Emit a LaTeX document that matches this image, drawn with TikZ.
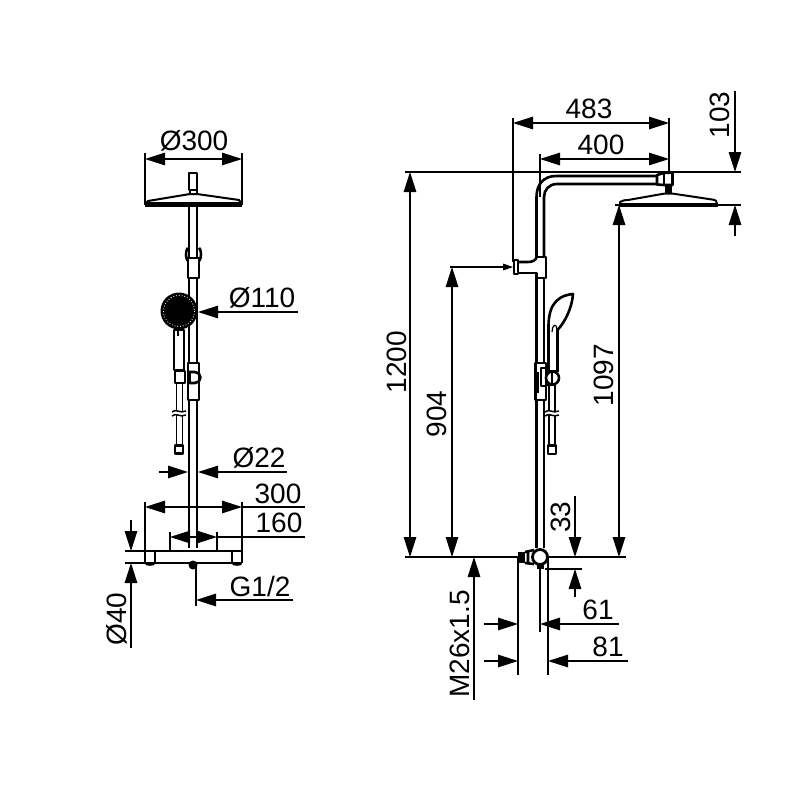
\documentclass[tikz,border=0pt]{standalone}
\usepackage{fontspec}
\setmainfont{Liberation Sans}
\usetikzlibrary{arrows.meta}
\tikzset{
 dimline/.style={line width=1.3pt,black},
 tipa/.style={dimline,-{Triangle[length=20pt,width=12.5pt]}},
 tipb/.style={dimline,{Triangle[length=20pt,width=12.5pt]}-{Triangle[length=20pt,width=12.5pt]}},
 body/.style={line width=2.6pt,black,line join=round},
 fine/.style={line width=1.5pt,black},
 lab/.style={font=\fontsize{28}{28}\selectfont,inner sep=0pt},
 rlab/.style={lab,rotate=90}
}
\begin{document}
\begin{tikzpicture}[x=1pt,y=-1pt]
\useasboundingbox (0,0) rectangle (800,800);
\fill[white] (0,0) rectangle (800,800);
% ---------- left view ----------
\draw[tipb] (145,159) -- (242,159);
\draw[dimline] (145,153) -- (145,205) (242,153) -- (242,205);
\node[lab] (d300) at (194,141) {Ø300};
\draw[body] (189,173) rectangle (197,190);
\draw[body] (190,190) -- (190,194) (197,190) -- (197,194);
\draw[body,line width=2pt] (146,203) -- (148,201) -- (190,194) -- (197,194) -- (239,200) -- (241,203) -- cycle;
\draw[line width=3.4pt] (145,205) -- (242,205);
\draw[body] (189,206) -- (189,548) (197,206) -- (197,548);
% connector
\filldraw[body,fill=white] (188,258) rectangle (199,278);
\draw[body] (188,261) arc[start angle=110,end angle=250,x radius=3,y radius=7];
\draw[body] (199,261) arc[start angle=70,end angle=-70,x radius=3,y radius=7];
% hand shower
\fill[black] (179,311) circle[radius=18.5];
\draw[white,line width=.8pt,dotted] (179,311) circle[radius=15.5];
\draw[dimline] (298,312) -- (217,312);
\draw[tipa] (218,312) -- (198,312);
\node[lab] (d110) at (262,298) {Ø110};
\draw[body] (174,330) -- (174,370) -- (184,370) -- (184,330) -- cycle;
\draw[body] (178,330) -- (178,336);
\filldraw[body,fill=white] (188,363) rectangle (199,400);
\filldraw[body,fill=white] (175,371) rectangle (185,383);
\draw[body] (188,372) -- (195,372) arc[start angle=-90,end angle=90,radius=5.5] -- (188,383);
\draw[line width=3.4pt] (189,372) -- (189,384);
\draw[fine] (176.5,383) -- (176.5,445) (182.5,383) -- (182.5,445);
\fill[white] (173,411) rectangle (187,415);
\draw[fine] (172,412) .. controls (176,408) and (180,414) .. (186,411);
\draw[fine] (172,416) .. controls (176,412) and (180,418) .. (186,415);
\draw[body] (175,445.5) rectangle (183,453.5);
% 22
\draw[dimline] (159,472) -- (169,472);
\draw[tipa] (168,472) -- (188,472);
\draw[tipa] (218,472) -- (198,472);
\draw[dimline] (217,472) -- (287,472);
\node[lab] (d22) at (259,458) {Ø22};
% 300
\draw[tipb] (145,507) -- (242,507);
\draw[dimline] (242,507) -- (305,507);
\draw[dimline] (145,502) -- (145,563) (242,502) -- (242,563);
\node[lab] (w300) at (278,494) {300};
% 160
\draw[tipb] (170,537) -- (217,537);
\draw[dimline] (217,537) -- (305,537);
\draw[dimline] (170,532) -- (170,551) (217,532) -- (217,551);
\node[lab] (w160) at (279,523) {160};
% T-bar
\draw[body] (145,551) -- (242,551) (145,563) -- (242,563);
\draw[body] (145,551) -- (145,563) (155,551) -- (155,563) (232,551) -- (232,563) (242,551) -- (242,563);
\fill (150,564) ellipse[x radius=5,y radius=1.8] (237,564) ellipse[x radius=5,y radius=1.8];
\fill (193,565) circle[radius=4.5];
% 40
\draw[tipa] (131,520) -- (131,551);
\draw[tipa] (131,648) -- (131,563);
\draw[dimline] (125,551) -- (145,551) (125,563) -- (145,563);
\node[rlab] (d40) at (117,619) {Ø40};
% G1/2
\draw[dimline] (196,565) -- (196,606);
\draw[tipa] (293,600) -- (196,600);
\node[lab] (g12) at (260,586) {G1/2};
% ---------- right view ----------
\draw[tipb] (513,123) -- (669,123);
\draw[tipb] (540,159) -- (669,159);
\draw[dimline] (513,118) -- (513,262) (540,154) -- (540,183) (669,118) -- (669,172);
\node[lab] (w483) at (589,109) {483};
\node[lab] (w400) at (601,145) {400};
\draw[dimline] (405,172) -- (741,172);
\draw[dimline] (615,205) -- (741,205);
\draw[tipa] (735,91) -- (735,172);
\draw[tipa] (735,236) -- (735,205);
\node[rlab] (h103) at (720,115) {103};
% arm
\draw[body] (536.5,257) -- (536.5,197) .. controls (536.5,184) and (544,176) .. (556,176) -- (657,176);
\draw[body] (544,257) -- (544,197) .. controls (544,190) and (549,184) .. (557,184) -- (657,184);
\draw[fine] (540,183) -- (540,197);
\draw[body] (657,175) -- (664,173) -- (672.5,172.5) -- (672.5,185) -- (664,185) -- (657,184.5) -- cycle;
\draw[body] (664,173) -- (664,185);
\fill (665,185) rectangle (672,193);
\draw[body,line width=2pt] (620,204) -- (620,202) .. controls (622,201) and (624,200) .. (628,200) -- (665,193.5) -- (672,193.5) -- (712,199.5) .. controls (716,200) and (717,201) .. (717,204) -- cycle;
\draw[line width=3.4pt] (619,205.5) -- (718,205.5);
% T body
\draw[body] (536.5,257) -- (546,257) -- (546,278) -- (536.5,278);
\draw[body] (517,262) -- (528,262) .. controls (533,262) and (536,260) .. (536.5,257);
\draw[body] (517,273) -- (536.5,273) -- (536.5,278);
\draw[body] (514,260) rectangle (518,274);
\draw[line width=1.2pt] (450,267) -- (505,267);
\fill (513,267) -- (503,263.5) -- (503,270.5) -- cycle;
\draw[body] (536.5,278) -- (536.5,548) (544,278) -- (544,548);
% shower side
\draw[body] (548.5,372) -- (548.5,330) .. controls (548,310) and (553,296) .. (573,294) .. controls (572,308) and (565,322) .. (557.5,330) -- (557.5,372);
\draw[line width=1.2pt] (552,332) .. controls (552,326) and (556,321) .. (557,330);
\filldraw[body,fill=white] (535.5,363) rectangle (546,400);
\draw[line width=3.5pt] (537.5,372) -- (537.5,393);
\draw[body,fill=white] (541,368) -- (546,368) -- (546,386) -- (541,386) -- cycle;
\filldraw[body,fill=white] (552.5,378) circle[radius=6.5];
\draw[body] (546,371) -- (556,371) (546,385) -- (556,385);
\draw[body] (552,372) -- (552,384);
\draw[fine] (549,385) -- (549,445) (555,385) -- (555,445);
\fill[white] (546,411) rectangle (559,415);
\draw[fine] (545,412) .. controls (549,408) and (553,414) .. (559,411);
\draw[fine] (545,416) .. controls (549,412) and (553,418) .. (559,415);
\draw[body] (548,445.5) rectangle (556,454);
% verticals
\draw[tipb] (410,172) -- (410,557);
\node[rlab] (h1200) at (397,362) {1200};
\draw[tipb] (452,267) -- (452,557);
\node[rlab] (h904) at (437,414) {904};
\draw[tipb] (619,205) -- (619,557);
\node[rlab] (h1097) at (604,375) {1097};
\draw[dimline] (405,557) -- (518,557) (548,557) -- (626,557);
% bottom fitting
\fill (518,552) rectangle (525,563);
\draw[body] (525,552) -- (534,550) (525,563) -- (534,564) (528,552) -- (528,563);
\draw[line width=2.8pt,fill=white] (540,557) circle[radius=7.5];
\fill (537,564) rectangle (544,569);
% M26
\draw[tipa] (474,700) -- (474,557);
\node[rlab] (m26) at (460,644) {M26x1.5};
% 33
\draw[tipa] (575,496) -- (575,557);
\draw[tipa] (575,597) -- (575,569);
\draw[dimline] (545,569) -- (582,569);
\node[rlab] (h33) at (561,517) {33};
% 61 81
\draw[dimline] (518,557) -- (518,675) (548,557) -- (548,675) (540,569) -- (540,632);
\draw[tipa] (484,624) -- (518,624);
\draw[tipa] (619,624) -- (540,624);
\node[lab] (w61) at (598,610) {61};
\draw[tipa] (484,661) -- (518,661);
\draw[tipa] (628,661) -- (548,661);
\node[lab] (w81) at (608,647) {81};
\end{tikzpicture}
\end{document}
